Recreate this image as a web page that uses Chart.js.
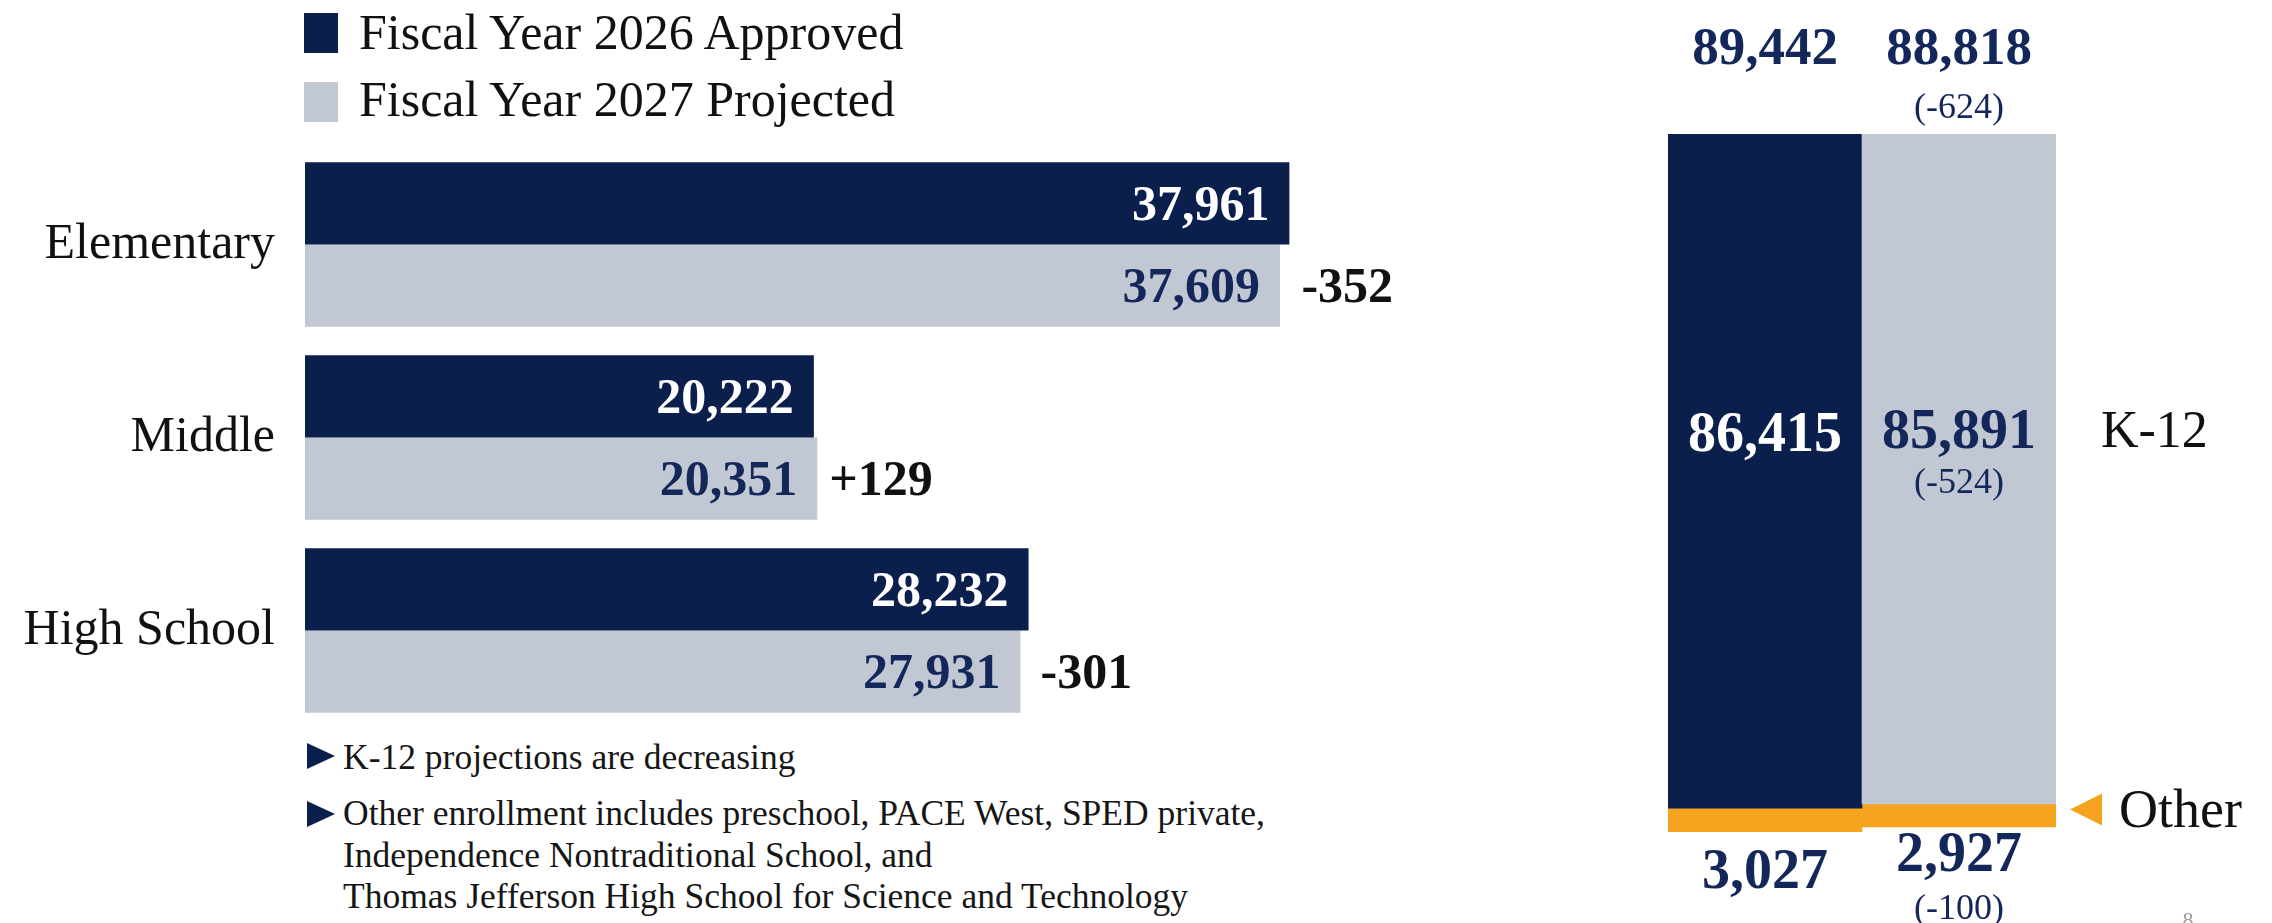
<!DOCTYPE html>
<html>
<head>
<meta charset="utf-8">
<script src="https://cdn.jsdelivr.net/npm/chart.js@4.4.1/dist/chart.umd.min.js"></script>
<style>
  html, body { margin:0; padding:0; background:#ffffff; }
  body { width:2272px; height:923px; position:relative; overflow:hidden; font-family:"Liberation Serif", serif; color:#111; }
  #leftChart { position:absolute; left:0; top:148px; }
  #rightChart { position:absolute; left:1560px; top:0; }
  .sw { position:absolute; left:304px; width:34px; height:40px; }
  .lg { position:absolute; left:359px; font-size:50px; line-height:50px; white-space:nowrap; color:#111; }
  .tri { position:absolute; left:307px; width:0; height:0; border-left:28px solid #0b1f4d; border-top:13px solid transparent; border-bottom:13px solid transparent; }
  .note { position:absolute; left:343px; font-size:35.5px; line-height:35px; white-space:nowrap; color:#161616; }
</style>
</head>
<body>
<div class="sw" id="sw1" style="top:13px;"></div>
<div class="lg" id="lg1" style="top:7px;"></div>
<div class="sw" id="sw2" style="top:82px;"></div>
<div class="lg" id="lg2" style="top:74px;"></div>

<canvas id="leftChart" width="1500" height="579"></canvas>
<canvas id="rightChart" width="712" height="923"></canvas>

<div class="tri" style="top:743px;"></div>
<div class="note" style="top:740px;">K-12 projections are decreasing</div>
<div class="tri" style="top:801px;"></div>
<div class="note" style="top:796px;">Other enrollment includes preschool, PACE West, SPED private,</div>
<div class="note" style="top:838px;">Independence Nontraditional School, and</div>
<div class="note" style="top:879px;">Thomas Jefferson High School for Science and Technology</div>

<script>
// ---------- data ----------
const categories = ['Elementary', 'Middle', 'High School'];
const seriesNames = ['Fiscal Year 2026 Approved', 'Fiscal Year 2027 Projected'];
const fy2026 = [37961, 20222, 28232];
const fy2027 = [37609, 20351, 27931];

const totalYears = ['FY 2026', 'FY 2027'];
const groupNames = ['K-12', 'Other'];
const k12Totals = [86415, 85891];
const otherTotals = [3027, 2927];

// ---------- styles ----------
const NAVY = '#0b1f4d';
const GRAY = '#c2c8d3';
const ORANGE = '#f6a41f';
const LABEL_NAVY = '#14275a';
const SERIF = '"Liberation Serif", "DejaVu Serif", serif';

document.getElementById('sw1').style.background = NAVY;
document.getElementById('sw2').style.background = GRAY;
document.getElementById('lg1').textContent = seriesNames[0];
document.getElementById('lg2').textContent = seriesNames[1];

const fmt = v => v.toLocaleString('en-US');
function drawText(ctx, t, x, cy, size, weight, color, align) {
  ctx.font = weight + ' ' + size + 'px ' + SERIF;
  ctx.fillStyle = color;
  ctx.textAlign = align;
  ctx.textBaseline = 'alphabetic';
  ctx.fillText(t, x, cy + size * 0.33);
}

// ---------- left chart ----------
const leftLabels = {
  id: 'leftLabels',
  afterDatasetsDraw(chart) {
    const ctx = chart.ctx;
    const m0 = chart.getDatasetMeta(0), m1 = chart.getDatasetMeta(1);
    ctx.save();
    [m0, m1].forEach((m, di) => {
      m.data.forEach((el, i) => {
        const v = chart.data.datasets[di].data[i];
        drawText(ctx, fmt(v), el.x - 20, el.y, 50, 'bold', di === 0 ? '#ffffff' : LABEL_NAVY, 'right');
      });
    });
    m1.data.forEach((el, i) => {
      const d = fy2027[i] - fy2026[i];
      const x = Math.max(el.x, m0.data[i].x) + 12;
      drawText(ctx, (d > 0 ? '+' : '') + d, x, el.y, 50, 'bold', '#111111', 'left');
    });
    ctx.restore();
  }
};

new Chart(document.getElementById('leftChart'), {
  type: 'bar',
  data: {
    labels: categories,
    datasets: [
      { label: seriesNames[0], data: fy2026, backgroundColor: NAVY, borderWidth: 0 },
      { label: seriesNames[1], data: fy2027, backgroundColor: GRAY, borderWidth: 0 }
    ]
  },
  options: {
    indexAxis: 'y',
    responsive: false,
    animation: false,
    events: [],
    layout: { padding: 0 },
    categoryPercentage: 0.852,
    barPercentage: 1.0,
    plugins: { legend: { display: false }, tooltip: { enabled: false } },
    scales: {
      x: { display: false, min: 1240, max: 45818 },
      y: {
        grid: { display: false, drawTicks: false },
        border: { display: false },
        ticks: { font: { family: SERIF, size: 50 }, color: '#111111', padding: 30 },
        afterFit(scale) { scale.width = 305; scale.paddingTop = 0; scale.paddingBottom = 0; }
      }
    }
  },
  plugins: [leftLabels]
});

// ---------- right chart ----------
const rightLabels = {
  id: 'rightLabels',
  afterDatasetsDraw(chart) {
    const ctx = chart.ctx;
    const area = chart.chartArea;
    const mK = chart.getDatasetMeta(0), mO = chart.getDatasetMeta(1);
    ctx.save();
    mK.data.forEach((el, i) => {
      const total = k12Totals[i] + otherTotals[i];
      const x = el.x;
      drawText(ctx, fmt(total), x, area.top - 87, 53, 'bold', LABEL_NAVY, 'center');
      const mid = (el.y + el.base) / 2 - 39;
      drawText(ctx, fmt(k12Totals[i]), x, mid, 56, 'bold', i === 0 ? '#ffffff' : LABEL_NAVY, 'center');
      const oel = mO.data[i];
      drawText(ctx, fmt(otherTotals[i]), x, oel.y + (i === 0 ? 38 : 26), 56, 'bold', LABEL_NAVY, 'center');
      if (i > 0) {
        const dT = total - (k12Totals[0] + otherTotals[0]);
        const dK = k12Totals[i] - k12Totals[0];
        const dO = otherTotals[i] - otherTotals[0];
        drawText(ctx, '(' + dT + ')', x, area.top - 28, 36, 'normal', LABEL_NAVY, 'center');
        drawText(ctx, '(' + dK + ')', x, mid + 51, 36, 'normal', LABEL_NAVY, 'center');
        drawText(ctx, '(' + dO + ')', x, oel.y + 80, 36, 'normal', LABEL_NAVY, 'center');
      }
    });
    // group labels at right
    const lastK = mK.data[mK.data.length - 1];
    const kMid = (lastK.y + lastK.base) / 2 - 39;
    drawText(ctx, groupNames[0], area.right + 45, kMid, 52, 'normal', '#111111', 'left');
    const lastO = mO.data[mO.data.length - 1];
    const oMid = (lastO.y + lastO.base) / 2 - 6;
    ctx.fillStyle = ORANGE;
    ctx.beginPath();
    ctx.moveTo(area.right + 14, oMid);
    ctx.lineTo(area.right + 46, oMid - 16);
    ctx.lineTo(area.right + 46, oMid + 16);
    ctx.closePath();
    ctx.fill();
    drawText(ctx, groupNames[1], area.right + 63, oMid, 54, 'normal', '#111111', 'left');
    // page number (cut at bottom edge)
    ctx.font = '22px ' + SERIF;
    ctx.fillStyle = '#9a9a9a';
    ctx.textAlign = 'center';
    ctx.textBaseline = 'top';
    ctx.fillText('8', 628, 910);
    ctx.restore();
  }
};

new Chart(document.getElementById('rightChart'), {
  type: 'bar',
  data: {
    labels: totalYears,
    datasets: [
      { label: groupNames[0], data: k12Totals, backgroundColor: [NAVY, GRAY], borderWidth: 0 },
      { label: groupNames[1], data: otherTotals, backgroundColor: ORANGE, borderWidth: 0 }
    ]
  },
  options: {
    responsive: false,
    animation: false,
    events: [],
    layout: { padding: { left: 108, right: 216, top: 134, bottom: 23 } },
    categoryPercentage: 1.0,
    barPercentage: 1.0,
    plugins: { legend: { display: false }, tooltip: { enabled: false } },
    scales: {
      x: { display: false, stacked: true },
      y: { display: false, stacked: true, reverse: true, min: 0, max: 98200 }
    }
  },
  plugins: [rightLabels]
});
</script>
</body>
</html>
